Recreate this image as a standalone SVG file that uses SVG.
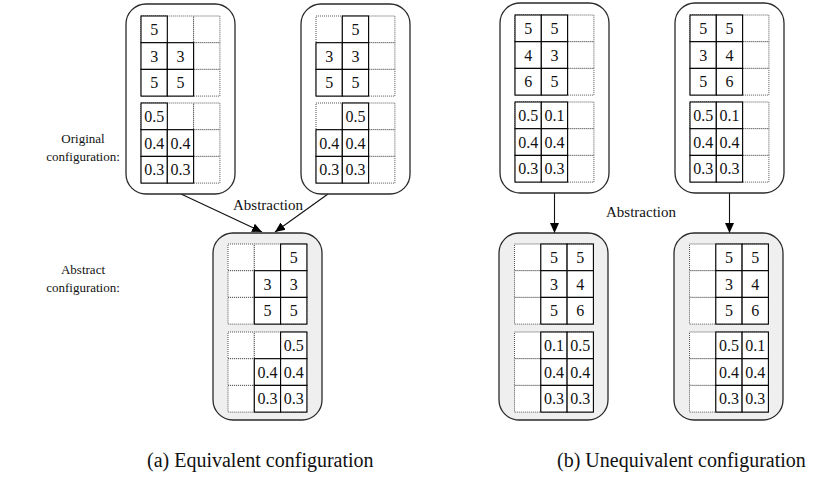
<svg xmlns="http://www.w3.org/2000/svg" xmlns:xlink="http://www.w3.org/1999/xlink" width="832" height="496" viewBox="0 0 832 496">
  <style>
    .box { fill: #ffffff; stroke: #2a2a2a; stroke-width: 1.3; }
    .abs { fill: #efefef; }
    .d { fill: #ffffff; stroke: #555555; stroke-width: 1; stroke-dasharray: 1 1; }
    .c { fill: #ffffff; stroke: #000000; stroke-width: 1.1; }
    .v { font-family: "Liberation Serif", "Times New Roman", serif; font-size: 16px; fill: #111111; text-anchor: middle; }
    .lbl { font-family: "Liberation Serif", "Times New Roman", serif; font-size: 13px; fill: #111111; text-anchor: middle; }
    .ab { font-family: "Liberation Serif", "Times New Roman", serif; font-size: 15px; fill: #111111; text-anchor: middle; }
    .cap { font-family: "Liberation Serif", "Times New Roman", serif; font-size: 20px; fill: #111111; }
    .edge { stroke: #111111; stroke-width: 1.1; fill: none; }
  </style>
  <defs>
    <!-- 3x3 dotted background grid; filled cells are redrawn solid on top -->
    <g id="dg">
      <rect class="d" x="0" y="0" width="26.3" height="26.7"/>
      <rect class="d" x="26.3" y="0" width="26.3" height="26.7"/>
      <rect class="d" x="52.6" y="0" width="26.3" height="26.7"/>
      <rect class="d" x="0" y="26.7" width="26.3" height="26.7"/>
      <rect class="d" x="26.3" y="26.7" width="26.3" height="26.7"/>
      <rect class="d" x="52.6" y="26.7" width="26.3" height="26.7"/>
      <rect class="d" x="0" y="53.4" width="26.3" height="26.7"/>
      <rect class="d" x="26.3" y="53.4" width="26.3" height="26.7"/>
      <rect class="d" x="52.6" y="53.4" width="26.3" height="26.7"/>
    </g>
    <rect id="c0" class="c" width="26.3" height="26.7"/>
    <marker id="ah" viewBox="0 0 10 10" refX="10" refY="5" markerWidth="10" markerHeight="10" markerUnits="userSpaceOnUse" orient="auto">
      <path d="M0,0.5 L10,5 L0,9.5 Z" fill="#000000"/>
    </marker>
  </defs>

  <!-- row labels -->
  <g id="label-original">
    <text class="lbl" x="83" y="143">Original</text>
    <text class="lbl" x="83" y="161">configuration:</text>
  </g>
  <g id="label-abstract">
    <text class="lbl" x="83" y="274">Abstract</text>
    <text class="lbl" x="83" y="292">configuration:</text>
  </g>

  <!-- connectors -->
  <g id="connectors">
    <line class="edge" x1="181" y1="194" x2="262" y2="232" marker-end="url(#ah)"/>
    <line class="edge" x1="328" y1="194" x2="275" y2="232" marker-end="url(#ah)"/>
    <line class="edge" x1="554.5" y1="193" x2="554.5" y2="233" marker-end="url(#ah)"/>
    <line class="edge" x1="729.5" y1="193" x2="729.5" y2="233" marker-end="url(#ah)"/>
    <text class="ab" x="268" y="210">Abstraction</text>
    <text class="ab" x="641" y="217">Abstraction</text>
  </g>

  <!-- (a) original configuration 1 -->
  <g id="a-orig-1">
    <rect class="box" x="126" y="4" width="109" height="190" rx="20"/>
    <g transform="translate(141,16)">
      <use xlink:href="#dg"/>
      <use xlink:href="#c0" x="0" y="0"/>
      <use xlink:href="#c0" x="0" y="26.7"/><use xlink:href="#c0" x="26.3" y="26.7"/>
      <use xlink:href="#c0" x="0" y="53.4"/><use xlink:href="#c0" x="26.3" y="53.4"/>
      <text class="v" x="13.15" y="19">5</text>
      <text class="v" x="13.15" y="45.7">3</text><text class="v" x="39.45" y="45.7">3</text>
      <text class="v" x="13.15" y="72.4">5</text><text class="v" x="39.45" y="72.4">5</text>
    </g>
    <g transform="translate(141,103)">
      <use xlink:href="#dg"/>
      <use xlink:href="#c0" x="0" y="0"/>
      <use xlink:href="#c0" x="0" y="26.7"/><use xlink:href="#c0" x="26.3" y="26.7"/>
      <use xlink:href="#c0" x="0" y="53.4"/><use xlink:href="#c0" x="26.3" y="53.4"/>
      <text class="v" x="13.15" y="19">0.5</text>
      <text class="v" x="13.15" y="45.7">0.4</text><text class="v" x="39.45" y="45.7">0.4</text>
      <text class="v" x="13.15" y="72.4">0.3</text><text class="v" x="39.45" y="72.4">0.3</text>
    </g>
  </g>

  <!-- (a) original configuration 2 -->
  <g id="a-orig-2">
    <rect class="box" x="301" y="4" width="109" height="190" rx="20"/>
    <g transform="translate(316,16)">
      <use xlink:href="#dg"/>
      <use xlink:href="#c0" x="26.3" y="0"/>
      <use xlink:href="#c0" x="0" y="26.7"/><use xlink:href="#c0" x="26.3" y="26.7"/>
      <use xlink:href="#c0" x="0" y="53.4"/><use xlink:href="#c0" x="26.3" y="53.4"/>
      <text class="v" x="39.45" y="19">5</text>
      <text class="v" x="13.15" y="45.7">3</text><text class="v" x="39.45" y="45.7">3</text>
      <text class="v" x="13.15" y="72.4">5</text><text class="v" x="39.45" y="72.4">5</text>
    </g>
    <g transform="translate(316,103)">
      <use xlink:href="#dg"/>
      <use xlink:href="#c0" x="26.3" y="0"/>
      <use xlink:href="#c0" x="0" y="26.7"/><use xlink:href="#c0" x="26.3" y="26.7"/>
      <use xlink:href="#c0" x="0" y="53.4"/><use xlink:href="#c0" x="26.3" y="53.4"/>
      <text class="v" x="39.45" y="19">0.5</text>
      <text class="v" x="13.15" y="45.7">0.4</text><text class="v" x="39.45" y="45.7">0.4</text>
      <text class="v" x="13.15" y="72.4">0.3</text><text class="v" x="39.45" y="72.4">0.3</text>
    </g>
  </g>

  <!-- (a) abstract configuration -->
  <g id="a-abstract">
    <rect class="box abs" x="213" y="233" width="109" height="187" rx="20"/>
    <g transform="translate(228,244)">
      <use xlink:href="#dg"/>
      <use xlink:href="#c0" x="52.6" y="0"/>
      <use xlink:href="#c0" x="26.3" y="26.7"/><use xlink:href="#c0" x="52.6" y="26.7"/>
      <use xlink:href="#c0" x="26.3" y="53.4"/><use xlink:href="#c0" x="52.6" y="53.4"/>
      <text class="v" x="65.75" y="19">5</text>
      <text class="v" x="39.45" y="45.7">3</text><text class="v" x="65.75" y="45.7">3</text>
      <text class="v" x="39.45" y="72.4">5</text><text class="v" x="65.75" y="72.4">5</text>
    </g>
    <g transform="translate(228,332)">
      <use xlink:href="#dg"/>
      <use xlink:href="#c0" x="52.6" y="0"/>
      <use xlink:href="#c0" x="26.3" y="26.7"/><use xlink:href="#c0" x="52.6" y="26.7"/>
      <use xlink:href="#c0" x="26.3" y="53.4"/><use xlink:href="#c0" x="52.6" y="53.4"/>
      <text class="v" x="65.75" y="19">0.5</text>
      <text class="v" x="39.45" y="45.7">0.4</text><text class="v" x="65.75" y="45.7">0.4</text>
      <text class="v" x="39.45" y="72.4">0.3</text><text class="v" x="65.75" y="72.4">0.3</text>
    </g>
  </g>

  <!-- (b) original configuration 1 -->
  <g id="b-orig-1">
    <rect class="box" x="500" y="3" width="109" height="190" rx="20"/>
    <g transform="translate(515,15)">
      <use xlink:href="#dg"/>
      <use xlink:href="#c0" x="0" y="0"/><use xlink:href="#c0" x="26.3" y="0"/>
      <use xlink:href="#c0" x="0" y="26.7"/><use xlink:href="#c0" x="26.3" y="26.7"/>
      <use xlink:href="#c0" x="0" y="53.4"/><use xlink:href="#c0" x="26.3" y="53.4"/>
      <text class="v" x="13.15" y="19">5</text><text class="v" x="39.45" y="19">5</text>
      <text class="v" x="13.15" y="45.7">4</text><text class="v" x="39.45" y="45.7">3</text>
      <text class="v" x="13.15" y="72.4">6</text><text class="v" x="39.45" y="72.4">5</text>
    </g>
    <g transform="translate(515,102)">
      <use xlink:href="#dg"/>
      <use xlink:href="#c0" x="0" y="0"/><use xlink:href="#c0" x="26.3" y="0"/>
      <use xlink:href="#c0" x="0" y="26.7"/><use xlink:href="#c0" x="26.3" y="26.7"/>
      <use xlink:href="#c0" x="0" y="53.4"/><use xlink:href="#c0" x="26.3" y="53.4"/>
      <text class="v" x="13.15" y="19">0.5</text><text class="v" x="39.45" y="19">0.1</text>
      <text class="v" x="13.15" y="45.7">0.4</text><text class="v" x="39.45" y="45.7">0.4</text>
      <text class="v" x="13.15" y="72.4">0.3</text><text class="v" x="39.45" y="72.4">0.3</text>
    </g>
  </g>

  <!-- (b) original configuration 2 -->
  <g id="b-orig-2">
    <rect class="box" x="675" y="3" width="109" height="190" rx="20"/>
    <g transform="translate(690,15)">
      <use xlink:href="#dg"/>
      <use xlink:href="#c0" x="0" y="0"/><use xlink:href="#c0" x="26.3" y="0"/>
      <use xlink:href="#c0" x="0" y="26.7"/><use xlink:href="#c0" x="26.3" y="26.7"/>
      <use xlink:href="#c0" x="0" y="53.4"/><use xlink:href="#c0" x="26.3" y="53.4"/>
      <text class="v" x="13.15" y="19">5</text><text class="v" x="39.45" y="19">5</text>
      <text class="v" x="13.15" y="45.7">3</text><text class="v" x="39.45" y="45.7">4</text>
      <text class="v" x="13.15" y="72.4">5</text><text class="v" x="39.45" y="72.4">6</text>
    </g>
    <g transform="translate(690,102)">
      <use xlink:href="#dg"/>
      <use xlink:href="#c0" x="0" y="0"/><use xlink:href="#c0" x="26.3" y="0"/>
      <use xlink:href="#c0" x="0" y="26.7"/><use xlink:href="#c0" x="26.3" y="26.7"/>
      <use xlink:href="#c0" x="0" y="53.4"/><use xlink:href="#c0" x="26.3" y="53.4"/>
      <text class="v" x="13.15" y="19">0.5</text><text class="v" x="39.45" y="19">0.1</text>
      <text class="v" x="13.15" y="45.7">0.4</text><text class="v" x="39.45" y="45.7">0.4</text>
      <text class="v" x="13.15" y="72.4">0.3</text><text class="v" x="39.45" y="72.4">0.3</text>
    </g>
  </g>

  <!-- (b) abstract configuration 1 -->
  <g id="b-abstract-1">
    <rect class="box abs" x="499" y="233" width="109" height="187" rx="20"/>
    <g transform="translate(514.5,244)">
      <use xlink:href="#dg"/>
      <use xlink:href="#c0" x="26.3" y="0"/><use xlink:href="#c0" x="52.6" y="0"/>
      <use xlink:href="#c0" x="26.3" y="26.7"/><use xlink:href="#c0" x="52.6" y="26.7"/>
      <use xlink:href="#c0" x="26.3" y="53.4"/><use xlink:href="#c0" x="52.6" y="53.4"/>
      <text class="v" x="39.45" y="19">5</text><text class="v" x="65.75" y="19">5</text>
      <text class="v" x="39.45" y="45.7">3</text><text class="v" x="65.75" y="45.7">4</text>
      <text class="v" x="39.45" y="72.4">5</text><text class="v" x="65.75" y="72.4">6</text>
    </g>
    <g transform="translate(514.5,332)">
      <use xlink:href="#dg"/>
      <use xlink:href="#c0" x="26.3" y="0"/><use xlink:href="#c0" x="52.6" y="0"/>
      <use xlink:href="#c0" x="26.3" y="26.7"/><use xlink:href="#c0" x="52.6" y="26.7"/>
      <use xlink:href="#c0" x="26.3" y="53.4"/><use xlink:href="#c0" x="52.6" y="53.4"/>
      <text class="v" x="39.45" y="19">0.1</text><text class="v" x="65.75" y="19">0.5</text>
      <text class="v" x="39.45" y="45.7">0.4</text><text class="v" x="65.75" y="45.7">0.4</text>
      <text class="v" x="39.45" y="72.4">0.3</text><text class="v" x="65.75" y="72.4">0.3</text>
    </g>
  </g>

  <!-- (b) abstract configuration 2 -->
  <g id="b-abstract-2">
    <rect class="box abs" x="674" y="233" width="109" height="187" rx="20"/>
    <g transform="translate(689.5,244)">
      <use xlink:href="#dg"/>
      <use xlink:href="#c0" x="26.3" y="0"/><use xlink:href="#c0" x="52.6" y="0"/>
      <use xlink:href="#c0" x="26.3" y="26.7"/><use xlink:href="#c0" x="52.6" y="26.7"/>
      <use xlink:href="#c0" x="26.3" y="53.4"/><use xlink:href="#c0" x="52.6" y="53.4"/>
      <text class="v" x="39.45" y="19">5</text><text class="v" x="65.75" y="19">5</text>
      <text class="v" x="39.45" y="45.7">3</text><text class="v" x="65.75" y="45.7">4</text>
      <text class="v" x="39.45" y="72.4">5</text><text class="v" x="65.75" y="72.4">6</text>
    </g>
    <g transform="translate(689.5,332)">
      <use xlink:href="#dg"/>
      <use xlink:href="#c0" x="26.3" y="0"/><use xlink:href="#c0" x="52.6" y="0"/>
      <use xlink:href="#c0" x="26.3" y="26.7"/><use xlink:href="#c0" x="52.6" y="26.7"/>
      <use xlink:href="#c0" x="26.3" y="53.4"/><use xlink:href="#c0" x="52.6" y="53.4"/>
      <text class="v" x="39.45" y="19">0.5</text><text class="v" x="65.75" y="19">0.1</text>
      <text class="v" x="39.45" y="45.7">0.4</text><text class="v" x="65.75" y="45.7">0.4</text>
      <text class="v" x="39.45" y="72.4">0.3</text><text class="v" x="65.75" y="72.4">0.3</text>
    </g>
  </g>

  <!-- sub-figure captions -->
  <g id="captions">
    <text class="cap" x="147" y="467">(a) Equivalent configuration</text>
    <text class="cap" x="557" y="467">(b) Unequivalent configuration</text>
  </g>
</svg>
